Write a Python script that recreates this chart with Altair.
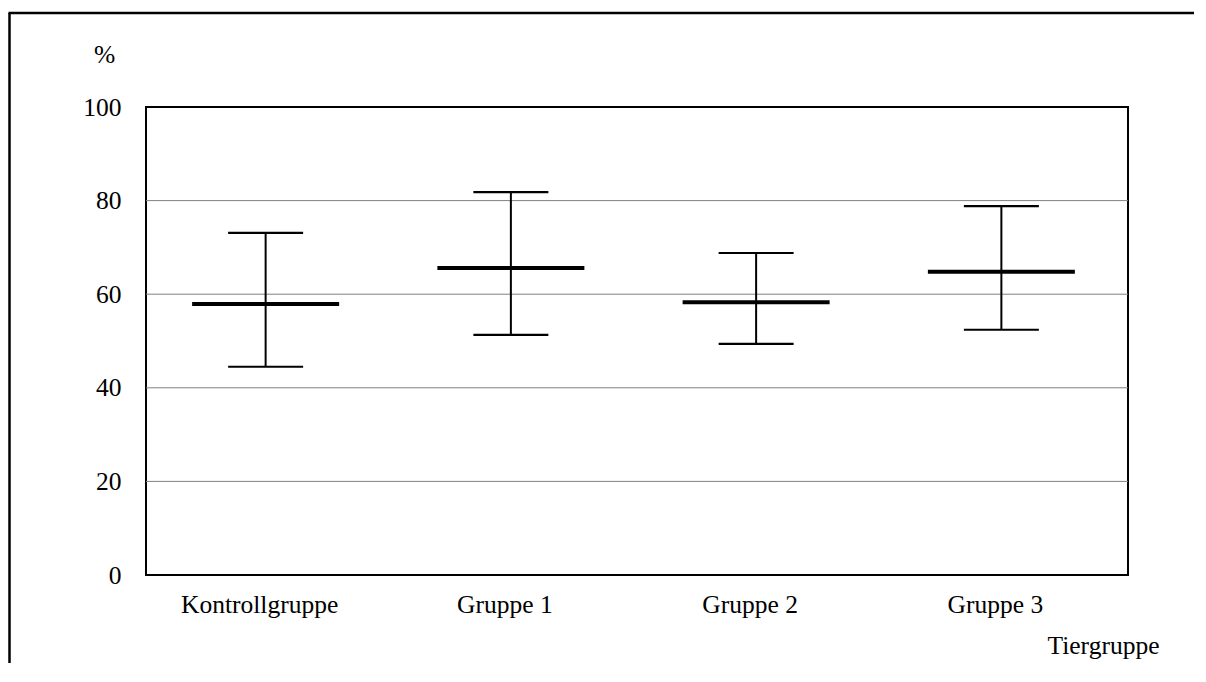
import altair as alt
import pandas as pd

groups = ["Kontrollgruppe", "Gruppe 1", "Gruppe 2", "Gruppe 3"]
mean_vals = [57.9, 65.6, 58.3, 64.8]
upper_vals = [73.1, 81.8, 68.8, 78.8]
lower_vals = [44.5, 51.3, 49.4, 52.4]
y_ticks = [0, 20, 40, 60, 80, 100]
grid_vals = [20, 40, 60, 80]

df = pd.DataFrame({"group": groups, "mean": mean_vals, "upper": upper_vals, "lower": lower_vals})
grid_df = pd.DataFrame({"v": grid_vals})

W, H = 982, 468
FONT = "Liberation Serif"
FS = 25.5

xenc = alt.X(
    "group:N",
    sort=groups,
    scale=alt.Scale(range=[-3, 978]),
    axis=alt.Axis(
        title="Tiergruppe", labelAngle=0, ticks=False, domain=False,
        labelPadding=17, labelOffset=-6, labelFontSize=FS, labelFont=FONT,
        labelColor="black", titleFont=FONT, titleFontSize=FS, titleFontWeight="normal",
        titleColor="black", titleX=957, titleY=78, titleAlign="center",
        titleBaseline="alphabetic",
    ),
)
yscale = alt.Scale(domain=[0, 100], nice=False)
yaxis = alt.Axis(
    values=y_ticks, title="%", titleAngle=0, titleX=-42, titleY=-53,
    titleAlign="center", titleBaseline="middle", titleFont=FONT,
    titleFontSize=FS, titleFontWeight="normal", titleColor="black",
    ticks=False, domain=False, labelPadding=25, labelFontSize=FS,
    labelFont=FONT, labelColor="black", grid=False,
)

grid = alt.Chart(grid_df).mark_rule(color="#808080", strokeWidth=1).encode(
    y=alt.Y("v:Q", scale=yscale, axis=yaxis)
)

base = alt.Chart(df)
whisker = base.mark_rule(color="black", strokeWidth=2).encode(
    x=xenc, y=alt.Y("lower:Q", scale=yscale), y2="upper:Q"
)
cap_hi = base.mark_tick(color="black", size=75, thickness=2.2, opacity=1).encode(
    x=alt.X("group:N", sort=groups), y=alt.Y("upper:Q")
)
cap_lo = base.mark_tick(color="black", size=75, thickness=2.2, opacity=1).encode(
    x=alt.X("group:N", sort=groups), y=alt.Y("lower:Q")
)
mean_tick = base.mark_tick(color="black", size=147, thickness=4, opacity=1).encode(
    x=alt.X("group:N", sort=groups), y=alt.Y("mean:Q")
)

frame_left = alt.Chart(df.head(1)).mark_rule(color="black", strokeWidth=2.5, clip=False).encode(
    x=alt.value(-136.5), y=alt.value(-94), y2=alt.value(H + 88)
)
frame_top = alt.Chart(df.head(1)).mark_rule(color="black", strokeWidth=2.5, clip=False).encode(
    x=alt.value(-137.5), x2=alt.value(W + 66), y=alt.value(-94)
)

chart = alt.layer(grid, whisker, cap_hi, cap_lo, mean_tick, frame_left, frame_top).properties(
    width=W, height=H,
    background="white",
    autosize=alt.AutoSizeParams(type="none"),
    padding={"left": 138, "top": 99, "right": 66, "bottom": 88},
).configure_view(stroke="black", strokeWidth=2)

chart.save("out.html", embed_options={"renderer": "svg", "actions": False})
